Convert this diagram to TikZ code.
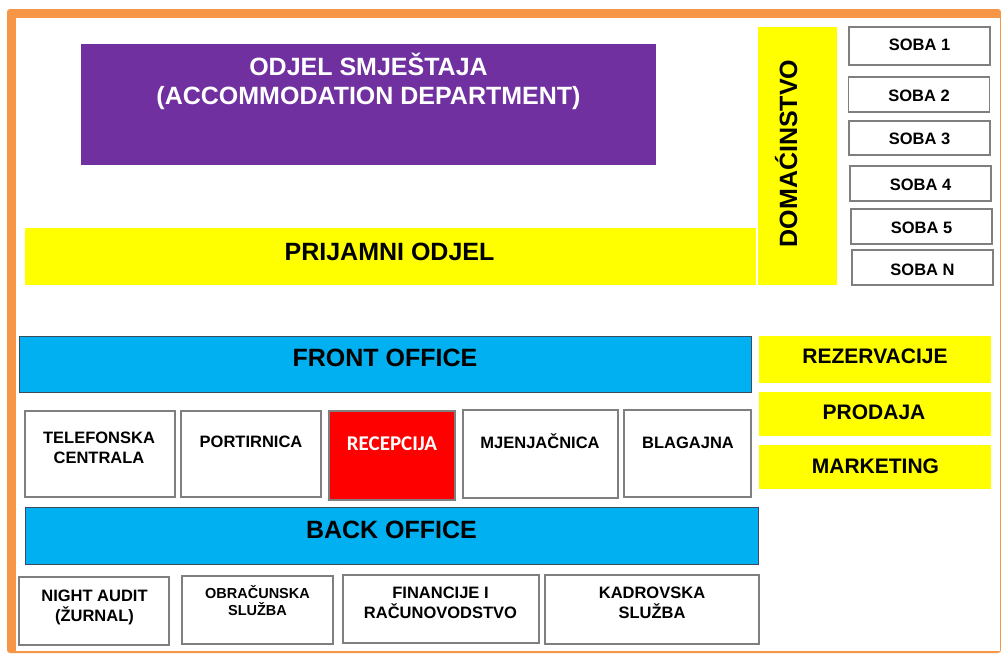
\documentclass[tikz,border=0pt]{standalone}
\usepackage{fontspec}
\setmainfont{Liberation Sans}
\newfontfamily\recfont{Carlito}
\definecolor{frameorange}{HTML}{F79646}
\definecolor{deptpurple}{HTML}{7030A0}
\definecolor{bandyellow}{HTML}{FFFF00}
\definecolor{officeblue}{HTML}{00B0F0}
\definecolor{recred}{HTML}{FF0000}
\definecolor{boxgray}{HTML}{7F7F7F}
\definecolor{officeedge}{HTML}{3B4B5B}
\begin{document}
\begin{tikzpicture}[
  x=1pt, y=-1pt,
  sz/.style 2 args={minimum width=#1pt, minimum height=#2pt, inner sep=0pt},
  unitbox/.style={draw=boxgray, line width=1.2pt, fill=white},
  yellowband/.style={fill=bandyellow},
  officeband/.style={draw=officeedge, line width=1pt, fill=officeblue},
  lbl/.style={font=\bfseries\fontsize{16.5}{20}\selectfont, inner sep=0pt, anchor=base, align=center},
  midlbl/.style={font=\bfseries\fontsize{21}{25}\selectfont, inner sep=0pt, anchor=base, align=center},
  biglbl/.style={font=\bfseries\fontsize{25}{29}\selectfont, inner sep=0pt, anchor=base, align=center}
]
  \useasboundingbox (0,0) rectangle (1001,654);
  % frame
  \fill[frameorange, rounded corners=3pt] (7,9) rectangle (1001,653);
  \fill[white] (16,18) rectangle (1000,651);

  % accommodation department
  \node[sz={575}{121}, fill=deptpurple] (dept) at (368.5,104.5) {};
  \node[biglbl, text=white] (deptT) at (368.5,104) {ODJEL SMJEŠTAJA\\(ACCOMMODATION DEPARTMENT)};

  \node[sz={731}{57}, yellowband] (prijam) at (390.5,256.5) {};
  \node[biglbl] (prijamT) at (389.5,260) {PRIJAMNI ODJEL};

  \node[sz={79}{258}, yellowband] (dom) at (797.5,156) {};
  \node[biglbl, rotate=90] (domT) at (797,153.5) {DOMAĆINSTVO};

  % rooms
  \foreach \i/\xc/\yc/\h/\yb/\t in {1/919.5/46/38/50/1, 2/919/94.5/35/101/2, 3/919.5/138/34/144/3,
      4/920.5/183.5/35/190/4, 5/921.5/226.5/35/233/5, 6/922.5/267.5/35/275/N} {
    \node[sz={141}{\h}, unitbox] (soba\i) at (\xc,\yc) {};
    \node[lbl] (soba\i T) at (\xc,\yb) {SOBA \t};
  }

  % front office
  \node[sz={732}{56}, officeband] (front) at (385,364) {};
  \node[biglbl] (frontT) at (385,366.5) {FRONT OFFICE};

  \node[sz={232}{47}, yellowband] (rez) at (875,359.5) {};
  \node[midlbl] (rezT) at (875,363) {REZERVACIJE};
  \node[sz={232}{44}, yellowband] (prod) at (875,414) {};
  \node[midlbl] (prodT) at (874,419) {PRODAJA};
  \node[sz={232}{44}, yellowband] (mark) at (875,467) {};
  \node[midlbl] (markT) at (875.5,473) {MARKETING};

  \node[sz={150}{86}, unitbox] (tel) at (100,454) {};
  \node[lbl] (telT) at (99,463) {TELEFONSKA\\CENTRALA};
  \node[sz={140}{86}, unitbox] (port) at (251,454) {};
  \node[lbl] (portT) at (251,447) {PORTIRNICA};
  \node[sz={126}{89}, fill=recred, draw=boxgray, line width=1.2pt] (rec) at (392,455.5) {};
  \node[inner sep=0pt, anchor=base, text=white, font=\recfont\bfseries\fontsize{21}{25}\selectfont] (recT) at (392,450) {RECEPCIJA};
  \node[sz={155}{88}, unitbox] (mjen) at (540.5,454) {};
  \node[lbl] (mjenT) at (540,448) {MJENJAČNICA};
  \node[sz={127}{87}, unitbox] (blag) at (687.5,453.5) {};
  \node[lbl] (blagT) at (688,448) {BLAGAJNA};

  % back office
  \node[sz={733}{57}, officeband] (back) at (391.5,535.5) {};
  \node[biglbl] (backT) at (391.5,538) {BACK OFFICE};

  \node[sz={150}{68}, unitbox] (night) at (94,611) {};
  \node[lbl] (nightT) at (94.5,621) {NIGHT AUDIT\\(ŽURNAL)};
  \node[sz={151}{68}, unitbox] (obr) at (257.5,610) {};
  \node[lbl, font=\bfseries\fontsize{14.5}{17}\selectfont] (obrT) at (257.5,615) {OBRAČUNSKA\\SLUŽBA};
  \node[sz={196}{68}, unitbox] (fin) at (441,609) {};
  \node[lbl] (finT) at (440.5,618) {FINANCIJE I\\RAČUNOVODSTVO};
  \node[sz={214}{69}, unitbox] (kad) at (652,609.5) {};
  \node[lbl] (kadT) at (652,618) {KADROVSKA\\SLUŽBA};
\end{tikzpicture}
\end{document}
